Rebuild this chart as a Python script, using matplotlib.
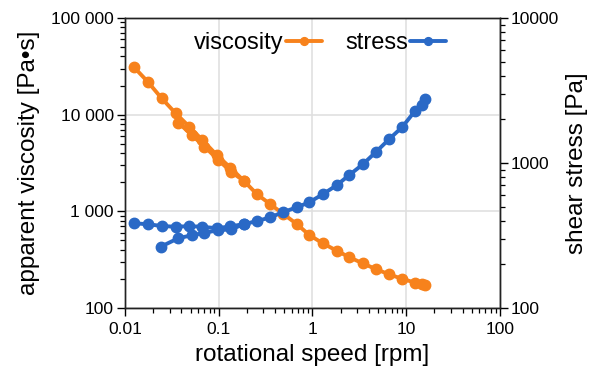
import matplotlib
matplotlib.use("Agg")
import matplotlib.pyplot as plt
from matplotlib.ticker import FuncFormatter, LogLocator, NullFormatter

plt.rcParams['font.family'] = ['Liberation Sans', 'DejaVu Sans']

# up-sweep (0.012 -> 16 rpm)
up_speed = [0.0125, 0.0175, 0.0246, 0.0347, 0.0485, 0.0668, 0.0951, 0.133,
            0.186, 0.254, 0.352, 0.489, 0.678, 0.924, 1.285, 1.81, 2.47,
            3.43, 4.72, 6.55, 9.08, 12.4, 14.6, 15.85]
up_visc = [30900, 21900, 14770, 10330, 7510, 5470, 3830, 2830,
           2060, 1512, 1191, 938, 740, 569, 467, 392, 335,
           290, 253, 223, 200, 183, 177, 173]
up_stress = [384, 378, 368, 363, 367, 363, 355, 365,
             379, 397, 421, 459, 494, 536, 608, 702, 826,
             977, 1186, 1457, 1771, 2284, 2512, 2762]

# down-sweep, low speed part (where it departs from the up-sweep)
down_speed_v = [0.186, 0.135, 0.0989, 0.0705, 0.0514, 0.0371]
down_visc = [2060, 2570, 3400, 4670, 6170, 8260]
down_speed_s = [0.186, 0.135, 0.0989, 0.0705, 0.0514, 0.0371, 0.0242]
down_stress = [379, 348, 344, 330, 317, 303, 265]

orange = '#f7821c'
blue = '#2a69c6'

fig = plt.figure(figsize=(5.96, 3.67), dpi=100)
ax = fig.add_axes([0.2097, 0.1608, 0.6292, 0.7902])
ax2 = ax.twinx()

kw = dict(lw=2.8, marker='o', ms=7.5, solid_capstyle='round')
lv, = ax.plot(up_speed, up_visc, color=orange, label='viscosity', **kw)
ax.plot(down_speed_v, down_visc, color=orange, **kw)
ls, = ax2.plot(up_speed, up_stress, color=blue, label='stress', **kw)
ax2.plot(down_speed_s, down_stress, color=blue, **kw)

ax.set_xscale('log')
ax.set_yscale('log')
ax2.set_yscale('log')
ax.set_xlim(0.01, 100)
ax.set_ylim(100, 100000)
ax2.set_ylim(100, 10000)

ax.grid(True, which='major', color='#e0e0e0', lw=1.2)
ax.set_axisbelow(True)

ax.yaxis.set_major_formatter(FuncFormatter(lambda v, p: f"{int(round(v)):,}".replace(',', ' ')))
ax.xaxis.set_major_formatter(FuncFormatter(lambda v, p: f"{v:g}"))
ax2.yaxis.set_major_formatter(FuncFormatter(lambda v, p: f"{int(round(v))}"))
for a in (ax.xaxis, ax.yaxis, ax2.yaxis):
    a.set_minor_locator(LogLocator(base=10, subs=range(2, 10), numticks=20))
    a.set_minor_formatter(NullFormatter())

for a in (ax, ax2):
    a.tick_params(which='major', length=6, width=1, labelsize=12.5, pad=2)
    a.tick_params(which='minor', length=3.5, width=0.9)
    for s in a.spines.values():
        s.set_linewidth(1)
        s.set_color('#222222')
ax.tick_params(axis='x', which='major', pad=4)

ax.set_xlabel('rotational speed [rpm]', fontsize=17.5, labelpad=5)
ax.set_ylabel('apparent viscosity [Pa•s]', fontsize=17.5, labelpad=8)
ax2.set_ylabel('shear stress [Pa]', fontsize=17.5, labelpad=5)

ax2.legend([lv, ls], ['viscosity', 'stress'], loc='upper center',
           bbox_to_anchor=(0.52, 1.025), ncol=2, frameon=False,
           markerfirst=False, fontsize=17, handlelength=1.5,
           handletextpad=0.1, columnspacing=1.0, markerscale=0.75,
           numpoints=1)

fig.savefig('out.png', dpi=100)
